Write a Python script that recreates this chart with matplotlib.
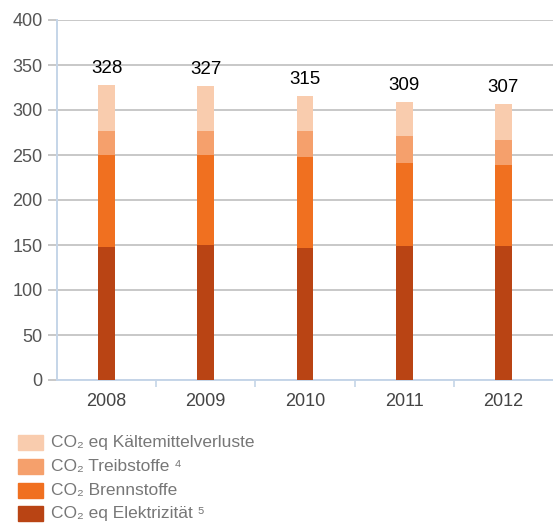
import numpy as np
import matplotlib
matplotlib.use("Agg")
import matplotlib.pyplot as plt
from matplotlib.patches import Rectangle

plt.rcParams['font.family'] = ['Liberation Sans', 'DejaVu Sans']

years = ['2008', '2009', '2010', '2011', '2012']
elektrizitaet = [148, 150, 147, 149, 149]
brennstoffe = [102, 100, 101, 92, 90]
treibstoffe = [27, 27, 29, 30, 28]
kaeltemittel = [51, 50, 38, 38, 40]
totals = [328, 327, 315, 309, 307]

series = [
    (elektrizitaet, '#B94414', 'CO\u2082 eq Elektrizität \u2075'),
    (brennstoffe, '#F07020', 'CO\u2082 Brennstoffe'),
    (treibstoffe, '#F5A06C', 'CO\u2082 Treibstoffe \u2074'),
    (kaeltemittel, '#F9CCAE', 'CO\u2082 eq Kältemittelverluste'),
]

W, H = 553, 526
fig = plt.figure(figsize=(W / 100, H / 100), dpi=100)
ax = fig.add_axes([57 / W, 1 - 380 / H, 1 - 57 / W, 360 / H])

x = np.arange(len(years))
bottom = np.zeros(len(years))
for vals, col, lab in series:
    ax.bar(x, vals, width=0.17, bottom=bottom, color=col, zorder=3)
    bottom += np.array(vals)

for xi, t in zip(x, totals):
    ax.text(xi, t + 9, str(t), ha='center', va='bottom', fontsize=13.5, color='black')

ax.set_ylim(0, 400)
ax.set_xlim(-0.5, 4.5)
ax.set_yticks(range(0, 401, 50))
ax.grid(axis='y', color='#c8c8c8', linewidth=1.4, zorder=0)
ax.tick_params(axis='y', length=6.5, width=1.4, color='#c8c8c8', labelsize=13, labelcolor='#555555', pad=4)
ax.set_xticks(x)
ax.set_xticklabels(years)
ax.set_xticks(np.arange(0.5, 4.5, 1), minor=True)
ax.tick_params(axis='x', which='major', length=0, labelsize=13, labelcolor='#444444', pad=9)
ax.tick_params(axis='x', which='minor', length=5, width=1.2, color='#c5d5e8', direction='out')

for s in ['top', 'right']:
    ax.spines[s].set_visible(False)
for s in ['left', 'bottom']:
    ax.spines[s].set_color('#c5d5e8')
    ax.spines[s].set_linewidth(1.4)

# legend, drawn by hand so the rows keep even spacing
row_y = [442.5, 466.5, 490, 513.5]
for yy, (vals, col, lab) in zip(row_y, series[::-1]):
    fig.patches.append(Rectangle((18 / W, 1 - (yy + 7.5) / H), 25 / W, 15 / H,
                                 transform=fig.transFigure, color=col))
    fig.text(51 / W, 1 - yy / H, lab, ha='left', va='center',
             fontsize=12.5, color='#777777')

fig.savefig('out.png', dpi=100)
